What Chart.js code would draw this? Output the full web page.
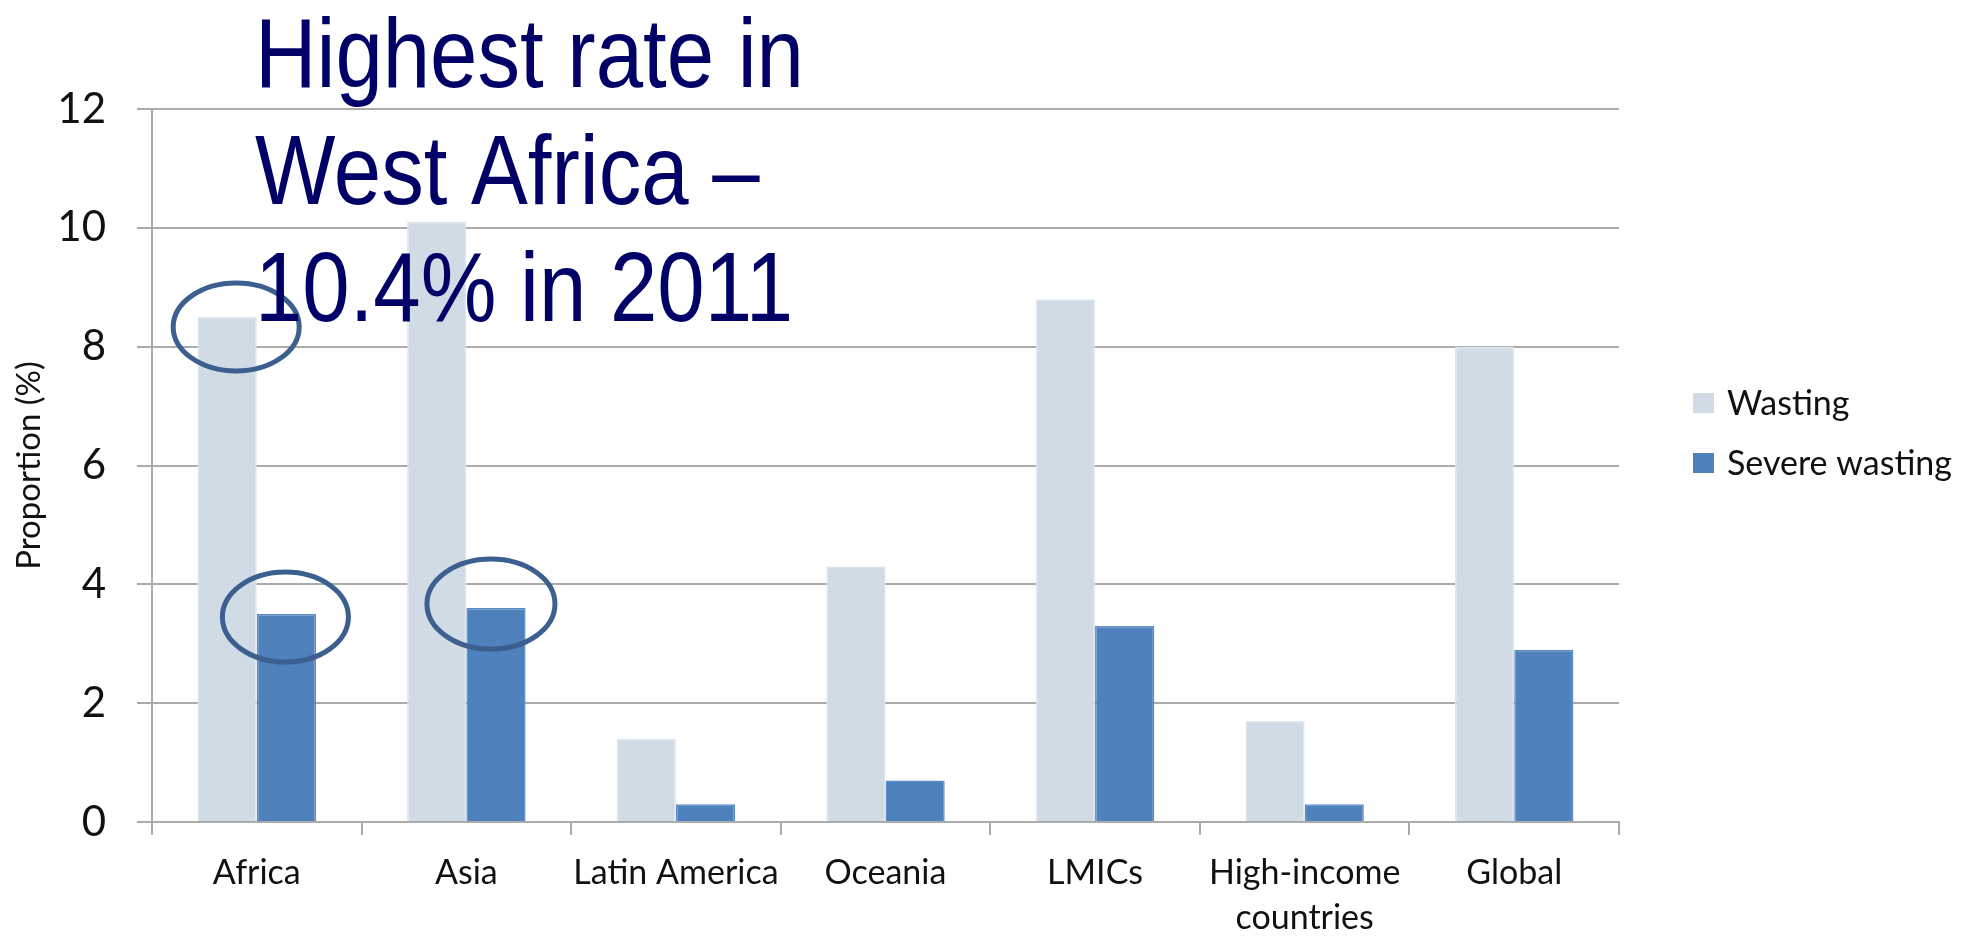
<!DOCTYPE html>
<html>
<head>
<meta charset="utf-8">
<title>Wasting by region</title>
<script src="https://cdn.jsdelivr.net/npm/chart.js@4.4.1/dist/chart.umd.min.js"></script>
<style>
  body { margin: 0; background: #fff; }
  #wrap { position: relative; width: 1975px; height: 939px; }
</style>
</head>
<body>
<div id="wrap"><canvas id="wastingChart"></canvas></div>
<script>
// data
const regions = [
  "Africa",
  "Asia",
  "Latin America",
  "Oceania",
  "LMICs",
  ["High-income", "countries"],
  "Global"
];
const wasting = [8.5, 10.1, 1.4, 4.3, 8.8, 1.7, 8.0];
const severeWasting = [3.5, 3.6, 0.3, 0.7, 3.3, 0.3, 2.9];
const yTicks = [0, 2, 4, 6, 8, 10, 12];

const headline = ["Highest rate in", "West Africa \u2013", "10.4% in 2011"];

const gridGray = "#ababab";
const font = "Lato";

// circled bars: dataset, bar index, offset of the ring from the bar top, radii
const rings = [
  { ds: 0, i: 0, dx: 9, dy: 10, rx: 63, ry: 44 },
  { ds: 1, i: 0, dx: -1, dy: 3, rx: 63, ry: 45 },
  { ds: 1, i: 1, dx: -5, dy: -4, rx: 64, ry: 45 }
];

// rings around the highlighted bars
const ringPlugin = {
  id: "rings",
  afterDatasetsDraw(chart) {
    const ctx = chart.ctx;
    ctx.save();
    ctx.strokeStyle = "#3b5f8e";
    ctx.lineWidth = 5;
    rings.forEach(r => {
      const bar = chart.getDatasetMeta(r.ds).data[r.i];
      ctx.beginPath();
      ctx.ellipse(bar.x + r.dx, bar.y + r.dy, r.rx, r.ry, 0, 0, Math.PI * 2);
      ctx.stroke();
    });
    ctx.restore();
  }
};

// legend on the right, drawn by hand
const legendPlugin = {
  id: "sideLegend",
  afterDraw(chart) {
    const ctx = chart.ctx;
    ctx.save();
    ctx.font = "34px " + font;
    ctx.textBaseline = "middle";
    chart.data.datasets.forEach((ds, k) => {
      const top = 393 + k * 60;
      ctx.fillStyle = ds.backgroundColor;
      ctx.fillRect(1693, top, 21, 20);
      ctx.fillStyle = "#111";
      ctx.fillText(ds.label, 1727, top + 11);
    });
    ctx.restore();
  }
};

// headline text over the plot
const headlinePlugin = {
  id: "headline",
  afterDraw(chart) {
    const ctx = chart.ctx;
    ctx.save();
    ctx.font = '99px "Liberation Sans"';
    ctx.fillStyle = "#000066";
    ctx.textBaseline = "alphabetic";
    ctx.translate(255, 0);
    ctx.scale(0.86, 1);
    headline.forEach((line, k) => {
      ctx.fillText(line, 0, 87 + k * 117);
    });
    ctx.restore();
  }
};

new Chart(document.getElementById("wastingChart"), {
  type: "bar",
  data: {
    labels: regions,
    datasets: [
      {
        label: "Wasting",
        data: wasting,
        backgroundColor: "#d0dbe5",
        borderColor: "#dce5ee",
        borderWidth: 1.5,
        categoryPercentage: 0.565,
        barPercentage: 1.0
      },
      {
        label: "Severe wasting",
        data: severeWasting,
        backgroundColor: "#4f81bd",
        borderColor: "#5a8bc6",
        borderWidth: 1.5,
        categoryPercentage: 0.565,
        barPercentage: 1.0
      }
    ]
  },
  options: {
    responsive: true,
    maintainAspectRatio: false,
    animation: false,
    layout: {
      padding: { top: 109, right: 356, bottom: 0, left: 0 }
    },
    plugins: {
      legend: { display: false },
      tooltip: { enabled: false }
    },
    scales: {
      x: {
        afterFit: (scale) => { scale.height = 117; },
        grid: {
          drawOnChartArea: false,
          tickLength: 13,
          color: gridGray,
          lineWidth: 2
        },
        border: { color: gridGray, width: 2 },
        ticks: {
          color: "#111",
          padding: 15,
          maxRotation: 0,
          autoSkip: false,
          font: { family: font, size: 34, lineHeight: 1.33 }
        }
      },
      y: {
        min: 0,
        max: 12,
        afterFit: (scale) => { scale.width = 152; },
        afterBuildTicks: (scale) => {
          scale.ticks = yTicks.map(v => ({ value: v }));
        },
        grid: {
          tickLength: 15,
          color: gridGray,
          lineWidth: 2
        },
        border: { color: gridGray, width: 2 },
        ticks: {
          color: "#111",
          padding: 31,
          font: { family: font, size: 42 }
        },
        title: {
          display: true,
          text: "Proportion (%)",
          color: "#111",
          padding: { top: 10, bottom: 0 },
          font: { family: font, size: 33 }
        }
      }
    }
  },
  plugins: [ringPlugin, headlinePlugin, legendPlugin]
});
</script>
</body>
</html>
